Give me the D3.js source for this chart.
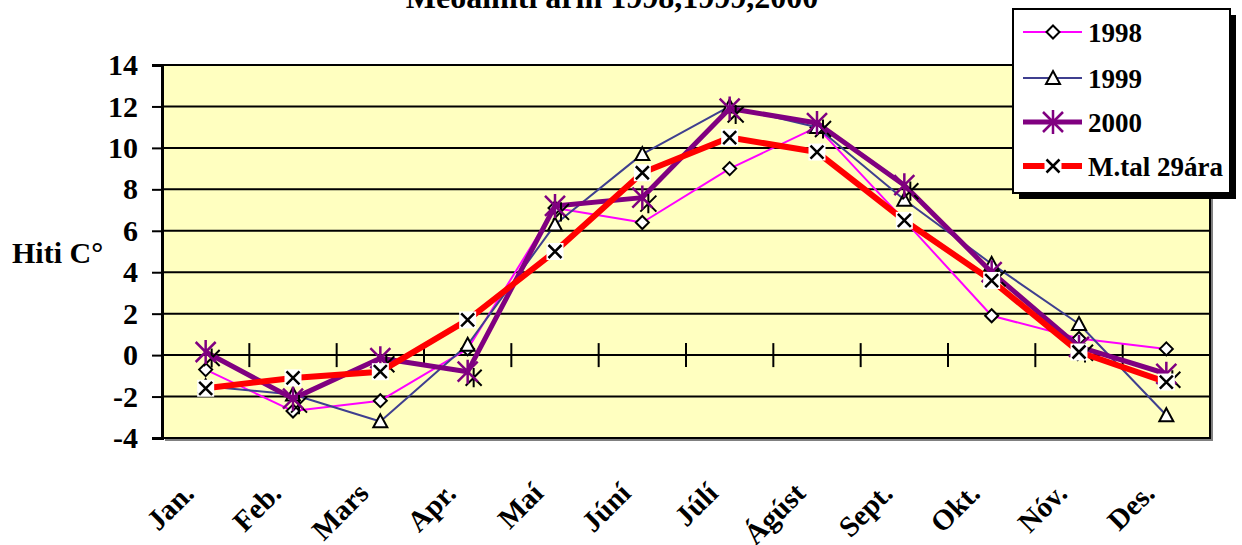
<!DOCTYPE html>
<html>
<head>
<meta charset="utf-8">
<script src="https://cdn.jsdelivr.net/npm/d3@7"></script>
<style>
  body { margin: 0; background: #fff; }
  text { font-family: "Liberation Serif", "Times New Roman", serif; font-weight: bold; }
</style>
</head>
<body>
<div id="chart"></div>
<script>
// data
var months = ["Jan.", "Feb.", "Mars", "Apr.", "Maí", "Júní", "Júlí", "Ágúst", "Sept.", "Okt.", "Nóv.", "Des."];
var y1998 = [-0.7, -2.7, -2.2, 0.3, 7.1, 6.4, 9.0, 11.0, 6.5, 1.9, 0.8, 0.3];
var y1999 = [-1.5, -1.9, -3.2, 0.5, 6.3, 9.7, 12.0, 11.0, 7.5, 4.4, 1.5, -2.9];
var y2000 = [0.15, -2.1, -0.15, -0.8, 7.2, 7.6, 11.9, 11.2, 8.2, 4.0, 0.4, -0.9];
var yMean = [-1.6, -1.1, -0.8, 1.7, 5.0, 8.8, 10.5, 9.8, 6.5, 3.6, 0.15, -1.3];
var yTicks = [-4, -2, 0, 2, 4, 6, 8, 10, 12, 14];

var width = 1242, height = 545;
var plotLeft = 162, plotRight = 1210, plotTop = 65, plotBottom = 438;

var svg = d3.select("#chart").append("svg")
    .attr("width", width)
    .attr("height", height);

var x = d3.scaleBand().domain(months).range([plotLeft, plotRight]);
var y = d3.scaleLinear().domain([-4, 14]).range([plotBottom, plotTop]);
var cx = function (m) { return x(m) + x.bandwidth() / 2; };

// title (cut off at top like the original)
svg.append("text")
    .attr("x", 612).attr("y", 8)
    .attr("text-anchor", "middle")
    .style("font-size", "32px")
    .text("Meðalhiti árin 1998,1999,2000");

// plot area with shadow
svg.append("rect")
    .attr("x", plotLeft + 3).attr("y", plotTop + 3)
    .attr("width", plotRight - plotLeft).attr("height", plotBottom - plotTop)
    .attr("fill", "#808080");
svg.append("rect")
    .attr("x", plotLeft).attr("y", plotTop)
    .attr("width", plotRight - plotLeft).attr("height", plotBottom - plotTop)
    .attr("fill", "#FFFFC0");

// gridlines
svg.append("g")
    .selectAll("line")
    .data(yTicks)
    .enter().append("line")
    .attr("x1", plotLeft).attr("x2", plotRight)
    .attr("y1", d => y(d)).attr("y2", d => y(d))
    .attr("stroke", "#000").attr("stroke-width", 2);

// border
svg.append("rect")
    .attr("x", plotLeft).attr("y", plotTop)
    .attr("width", plotRight - plotLeft).attr("height", plotBottom - plotTop)
    .attr("fill", "none").attr("stroke", "#000").attr("stroke-width", 2);

// y axis
var yAxis = d3.axisLeft(y).tickValues(yTicks).tickSize(10).tickPadding(14)
    .tickFormat(d => String(d));
var gy = svg.append("g")
    .attr("transform", "translate(" + plotLeft + ",0)")
    .call(yAxis);
gy.select(".domain").attr("stroke-width", 3);
gy.selectAll(".tick line").attr("stroke-width", 2);
gy.selectAll(".tick text").style("font-size", "30px")
    .style("font-family", "'Liberation Serif', serif").style("font-weight", "bold");

// axis title
svg.append("text")
    .attr("x", 12).attr("y", 263)
    .style("font-size", "30px")
    .text("Hiti C°");

// x axis at zero with crossing ticks between categories
var gx = svg.append("g")
    .attr("transform", "translate(0," + y(0) + ")");
gx.selectAll("line.tk")
    .data(months.slice(1))
    .enter().append("line")
    .attr("x1", d => x(d)).attr("x2", d => x(d))
    .attr("y1", -12).attr("y2", 12)
    .attr("stroke", "#000").attr("stroke-width", 2);

// x labels
svg.append("g")
    .selectAll("text")
    .data(months)
    .enter().append("text")
    .attr("text-anchor", "end")
    .attr("transform", d => "translate(" + (cx(d) - 10) + ",495) rotate(-45)")
    .style("font-size", "29px")
    .text(d => d);

// marker shapes
function diamond(s) {
    return "M0," + (-s) + "L" + s + ",0L0," + s + "L" + (-s) + ",0Z";
}
function triangle(s) {
    return "M0," + (-s) + "L" + s + "," + (s * 0.85) + "L" + (-s) + "," + (s * 0.85) + "Z";
}
function star(s) {
    return "M" + (-s) + "," + (-s) + "L" + s + "," + s + "M" + s + "," + (-s) + "L" + (-s) + "," + s +
        "M0," + (-s * 1.2) + "L0," + (s * 1.2);
}
function cross(s) {
    return "M" + (-s) + "," + (-s) + "L" + s + "," + s + "M" + s + "," + (-s) + "L" + (-s) + "," + s;
}

function drawMarker(g, type, mx, my, legend) {
    var mk = g.append("g").attr("transform", "translate(" + mx + "," + my + ")");
    if (type === "diamond") {
        mk.append("path").attr("d", diamond(6.5)).attr("fill", "#fff").attr("stroke", "#000").attr("stroke-width", 2);
    } else if (type === "triangle") {
        mk.append("path").attr("d", triangle(7)).attr("fill", "#fff").attr("stroke", "#000").attr("stroke-width", 2);
    } else if (type === "star") {
        if (!legend) {
            mk.append("path").attr("d", star(8)).attr("transform", "translate(6,6)")
                .attr("fill", "none").attr("stroke", "#000").attr("stroke-width", 2);
        }
        mk.append("path").attr("d", star(10)).attr("fill", "none").attr("stroke", "#800080").attr("stroke-width", 2.5);
    } else if (type === "cross") {
        mk.append("rect").attr("x", -8.5).attr("y", -8.5).attr("width", 17).attr("height", 17).attr("fill", "#fff");
        mk.append("path").attr("d", cross(6.5)).attr("fill", "none").attr("stroke", "#000").attr("stroke-width", 2.5);
    }
}

var series = [
    { name: "1998", values: y1998, color: "#FF00FF", width: 2, marker: "diamond" },
    { name: "1999", values: y1999, color: "#3F3F8F", width: 2, marker: "triangle" },
    { name: "2000", values: y2000, color: "#800080", width: 5, marker: "star" },
    { name: "M.tal 29ára", values: yMean, color: "#FF0000", width: 6, marker: "cross" }
];

var line = d3.line()
    .x((d, i) => cx(months[i]))
    .y(d => y(d));

series.forEach(function (s) {
    var g = svg.append("g");
    g.append("path")
        .datum(s.values)
        .attr("d", line)
        .attr("fill", "none")
        .attr("stroke", s.color)
        .attr("stroke-width", s.width)
        .attr("stroke-linejoin", "round");
    s.values.forEach(function (v, i) {
        drawMarker(g, s.marker, cx(months[i]), y(v), false);
    });
});

// legend
var lg = svg.append("g");
lg.append("rect").attr("x", 1019).attr("y", 15).attr("width", 217).attr("height", 184).attr("fill", "#000");
lg.append("rect").attr("x", 1013).attr("y", 9).attr("width", 217).attr("height", 184)
    .attr("fill", "#fff").attr("stroke", "#000").attr("stroke-width", 2);
var rowsY = [32, 78, 122, 166];
series.forEach(function (s, i) {
    var ry = rowsY[i];
    lg.append("line").attr("x1", 1023).attr("x2", 1082).attr("y1", ry).attr("y2", ry)
        .attr("stroke", s.color).attr("stroke-width", s.width);
    drawMarker(lg, s.marker, 1053, ry, true);
    lg.append("text").attr("x", 1088).attr("y", ry + 10)
        .style("font-size", "27px")
        .text(s.name);
});
</script>
</body>
</html>
